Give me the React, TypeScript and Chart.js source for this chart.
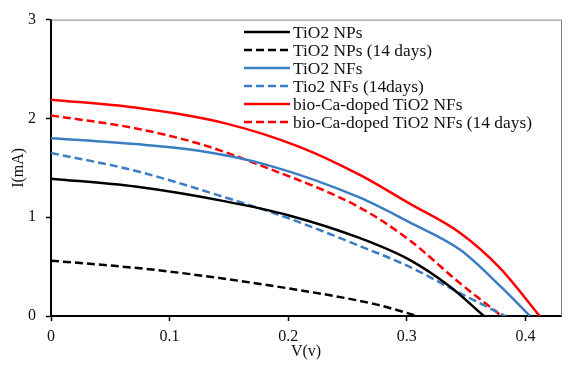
import React, { useEffect, useRef } from "react";
import { Chart, registerables } from "chart.js";

Chart.register(...registerables);

// TiO2 NPs
const npV = [0, 0.071, 0.147, 0.2, 0.26, 0.302, 0.336, 0.365];
const npI = [1.39, 1.31, 1.16, 1.02, 0.79, 0.57, 0.3, 0];
// TiO2 NPs (14 days)
const np14V = [0, 0.051, 0.1, 0.2, 0.273, 0.309];
const np14I = [0.56, 0.51, 0.45, 0.28, 0.12, 0];
// TiO2 NFs
const nfV = [0, 0.071, 0.126, 0.182, 0.26, 0.302, 0.345, 0.379, 0.404];
const nfI = [1.8, 1.74, 1.67, 1.53, 1.2, 0.95, 0.67, 0.3, 0];
// Tio2 NFs (14days)
const nf14V = [0, 0.071, 0.147, 0.2, 0.26, 0.302, 0.345, 0.383];
const nf14I = [1.65, 1.47, 1.2, 0.99, 0.71, 0.5, 0.23, 0];
// bio-Ca-doped TiO2 NFs
const caV = [0, 0.071, 0.147, 0.21, 0.26, 0.302, 0.345, 0.379, 0.412];
const caI = [2.19, 2.11, 1.95, 1.71, 1.43, 1.14, 0.84, 0.48, 0];
// bio-Ca-doped TiO2 NFs (14 days)
const ca14V = [0, 0.071, 0.126, 0.182, 0.26, 0.302, 0.345, 0.38];
const ca14I = [2.03, 1.9, 1.74, 1.5, 1.1, 0.77, 0.33, 0];

const seriesLabels = [
  "TiO2 NPs",
  "TiO2 NPs (14 days)",
  "TiO2 NFs",
  "Tio2 NFs (14days)",
  "bio-Ca-doped TiO2 NFs",
  "bio-Ca-doped TiO2 NFs (14 days)",
];

const xTickValues = [0, 0.1, 0.2, 0.3, 0.4];
const yTickValues = [0, 1, 2, 3];

const FONT = "'Liberation Serif', 'Times New Roman', serif";
const BLUE = "#3B7DC2";
const RED = "#FF0000";
const DASH = [8, 4];

const pts = (xs: number[], ys: number[]) => xs.map((x, i) => ({ x, y: ys[i] }));

const legendPlugin = {
  id: "customLegend",
  afterDraw(chart: any) {
    const ctx = chart.ctx;
    const x0 = 244;
    const x1 = 290;
    const tx = 293;
    ctx.save();
    ctx.font = `17.4px ${FONT}`;
    ctx.textBaseline = "middle";
    ctx.textAlign = "left";
    chart.data.datasets.forEach((ds: any, i: number) => {
      const y = 32 + i * 18;
      ctx.beginPath();
      ctx.strokeStyle = ds.borderColor;
      ctx.lineWidth = ds.borderWidth;
      ctx.setLineDash(ds.borderDash || []);
      ctx.moveTo(x0, y);
      ctx.lineTo(x1, y);
      ctx.stroke();
      ctx.setLineDash([]);
      ctx.fillStyle = "#111";
      ctx.fillText(ds.label, tx, y + 1);
    });
    ctx.restore();
  },
};

const framePlugin = {
  id: "frame",
  beforeDatasetsDraw(chart: any) {
    const { ctx, chartArea } = chart;
    ctx.save();
    ctx.strokeStyle = "#808080";
    ctx.lineWidth = 1;
    ctx.beginPath();
    ctx.moveTo(chartArea.left, chartArea.top + 0.5);
    ctx.lineTo(chartArea.right + 0.5, chartArea.top + 0.5);
    ctx.lineTo(chartArea.right + 0.5, chartArea.bottom);
    ctx.stroke();
    ctx.restore();
  },
};

export default function App() {
  const ref = useRef<HTMLCanvasElement | null>(null);

  useEffect(() => {
    if (!ref.current) return;
    const mk = (label: string, data: any[], color: string, dashed: boolean) => ({
      label,
      data,
      borderColor: color,
      backgroundColor: color,
      borderWidth: 2.5,
      borderDash: dashed ? DASH : [],
      showLine: true,
      pointRadius: 0,
      cubicInterpolationMode: "monotone",
      fill: false,
    });
    const chart = new Chart(ref.current, {
      type: "scatter",
      data: {
        datasets: [
          mk(seriesLabels[0], pts(npV, npI), "#000000", false),
          mk(seriesLabels[1], pts(np14V, np14I), "#000000", true),
          mk(seriesLabels[2], pts(nfV, nfI), BLUE, false),
          mk(seriesLabels[3], pts(nf14V, nf14I), BLUE, true),
          mk(seriesLabels[4], pts(caV, caI), RED, false),
          mk(seriesLabels[5], pts(ca14V, ca14I), RED, true),
        ],
      },
      options: {
        animation: false,
        responsive: false,
        devicePixelRatio: 1,
        layout: { padding: { left: 0, top: 19, right: 15, bottom: 0 } },
        plugins: {
          legend: { display: false },
          tooltip: { enabled: false },
        },
        scales: {
          x: {
            type: "linear",
            min: 0,
            max: 0.43,
            afterBuildTicks: (scale: any) => {
              scale.ticks = xTickValues.map((v) => ({ value: v }));
            },
            afterFit: (scale: any) => {
              scale.height = 53;
            },
            grid: {
              drawOnChartArea: false,
              drawTicks: true,
              tickLength: 5,
              tickWidth: 1.5,
              tickColor: "#000",
            },
            border: { display: true, color: "#000", width: 2 },
            ticks: {
              autoSkip: false,
              maxRotation: 0,
              padding: 6,
              color: "#111",
              font: { family: FONT, size: 16 },
              callback: (v: any) => String(v),
            },
            title: {
              display: true,
              text: "V(v)",
              color: "#111",
              font: { family: FONT, size: 16 },
              padding: { top: 0, bottom: 8 },
            },
          },
          y: {
            type: "linear",
            min: 0,
            max: 3,
            afterBuildTicks: (scale: any) => {
              scale.ticks = yTickValues.map((v) => ({ value: v }));
            },
            afterFit: (scale: any) => {
              scale.width = 51;
            },
            grid: {
              drawOnChartArea: false,
              drawTicks: true,
              tickLength: 5,
              tickWidth: 1.5,
              tickColor: "#000",
            },
            border: { display: true, color: "#000", width: 2 },
            ticks: {
              padding: 10,
              color: "#111",
              font: { family: FONT, size: 16 },
              callback: (v: any) => String(v),
            },
            title: {
              display: true,
              text: "I(mA)",
              color: "#111",
              font: { family: FONT, size: 16 },
              padding: { top: 9, bottom: 0 },
            },
          },
        },
      },
      plugins: [framePlugin, legendPlugin],
    } as any);
    return () => chart.destroy();
  }, []);

  return (
    <div style={{ position: "absolute", left: 0, top: 0, width: 576, height: 369, background: "#fff" }}>
      <canvas ref={ref} width={576} height={369} style={{ display: "block" }} />
    </div>
  );
}
